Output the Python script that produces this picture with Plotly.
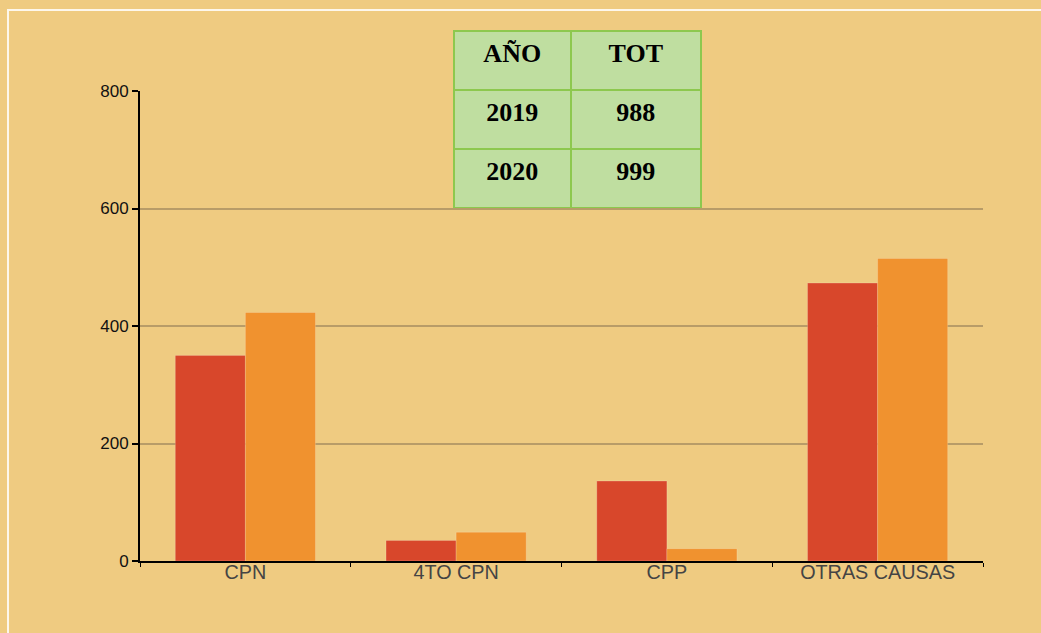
import plotly.graph_objects as go

categories = ["CPN", "4TO CPN", "CPP", "OTRAS CAUSAS"]
values_2019 = [350, 35, 136, 473]
values_2020 = [423, 49, 21, 515]
series_names = ["2019", "2020"]

table_header = ["AÑO", "TOT"]
table_years = ["2019", "2020"]
table_totals = ["988", "999"]

BG = "#EFCB81"
RED = "#D8472B"
ORANGE = "#F0922F"

W, H = 1041, 633
ML, MR, MT, MB = 140, 58, 20, 72
pw = W - ML - MR
ph = H - MT - MB


def px_x(x):
    return (x - ML) / pw


def px_y(y):
    return (H - MB - y) / ph


fig = go.Figure()
for name, vals, col in [(series_names[0], values_2019, RED), (series_names[1], values_2020, ORANGE)]:
    fig.add_trace(go.Bar(
        x=categories, y=vals, name=name,
        marker=dict(color=col, line=dict(color="rgba(255,255,255,0.18)", width=1)),
        hoverinfo="x+y+name",
    ))

table_font = dict(family="Liberation Serif", size=26, color="black")
fig.add_trace(go.Table(
    domain=dict(x=[px_x(454), px_x(702)], y=[px_y(209), px_y(31)]),
    columnwidth=[117, 131],
    header=dict(
        values=[f"<b>{h}</b>" for h in table_header],
        fill_color="#BFDEA0",
        line=dict(color="#8DC84E", width=2),
        align="center",
        height=59,
        font=table_font,
    ),
    cells=dict(
        values=[[f"<b>{v}</b>" for v in table_years], [f"<b>{v}</b>" for v in table_totals]],
        fill_color="#BFDEA0",
        line=dict(color="#8DC84E", width=2),
        align="center",
        height=59,
        font=table_font,
    ),
))

fig.update_layout(
    width=W, height=H,
    autosize=False,
    margin=dict(l=ML, r=MR, t=MT, b=MB, pad=0),
    paper_bgcolor=BG,
    plot_bgcolor=BG,
    showlegend=False,
    barmode="group",
    bargap=0.335,
    bargroupgap=0,
    font=dict(family="Liberation Sans, Arial, sans-serif"),
    xaxis=dict(
        showline=True, linecolor="black", linewidth=2,
        ticks="outside", tickson="boundaries", ticklen=4, tickcolor="black", tickwidth=1,
        tickfont=dict(size=19.8, color="#444444"),
        ticklabelstandoff=-8,
        showgrid=False,
    ),
    yaxis=dict(
        domain=[0, px_y(91)],
        range=[0, 800], dtick=200,
        showline=True, linecolor="black", linewidth=2,
        ticks="outside", ticklen=6, tickcolor="black", tickwidth=2,
        tickfont=dict(size=17, color="#111111"),
        showgrid=True, gridcolor="#B89C68", gridwidth=1.5,
        zeroline=False,
    ),
    shapes=[dict(
        type="rect", xref="paper", yref="paper",
        x0=px_x(8), x1=px_x(W + 10), y0=px_y(H + 10), y1=px_y(10),
        line=dict(color="rgba(255,255,255,0.85)", width=2),
        fillcolor="rgba(0,0,0,0)", layer="below",
    )],
)

fig.write_html(
    "out.html",
    config={"displayModeBar": False},
    post_script=(
        "document.body.style.margin='0';"
        "document.body.style.overflow='hidden';"
        "document.body.style.background='" + BG + "';"
    ),
)
